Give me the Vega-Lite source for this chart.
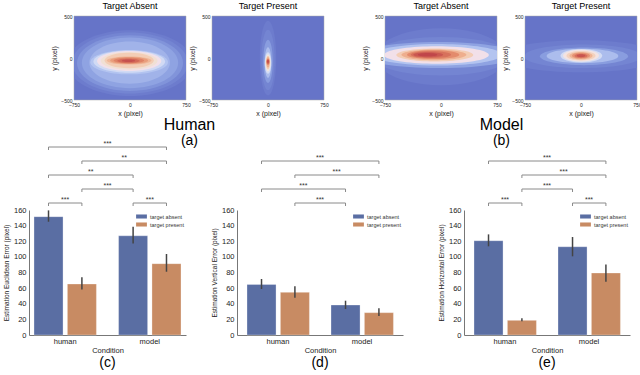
{
 "$schema": "https://vega.github.io/schema/vega-lite/v6.json",
 "padding": {"left": 3, "top": 1, "right": 2, "bottom": 1},
 "datasets": {
  "hm": [
   {"panel":"ha","g":1,"d":0.05,"cx":0,"cy":-60,"ext":1675},
   {"panel":"ha","g":1,"d":0.1,"cx":0,"cy":-60,"ext":1550},
   {"panel":"ha","g":1,"d":0.15,"cx":0,"cy":-60,"ext":1420},
   {"panel":"ha","g":1,"d":0.2,"cx":0,"cy":-58,"ext":1290},
   {"panel":"ha","g":1,"d":0.25,"cx":-5,"cy":-55,"ext":1080},
   {"panel":"ha","g":2,"d":0.3,"cx":-11,"cy":-50,"ext":1040},
   {"panel":"ha","g":2,"d":0.375,"cx":-10,"cy":-43,"ext":960},
   {"panel":"ha","g":2,"d":0.45,"cx":-11,"cy":-36,"ext":860},
   {"panel":"ha","g":2,"d":0.525,"cx":-11,"cy":-33,"ext":760},
   {"panel":"ha","g":2,"d":0.6,"cx":-11,"cy":-30,"ext":660},
   {"panel":"ha","g":3,"d":0.675,"cx":-12,"cy":-30,"ext":600},
   {"panel":"ha","g":3,"d":0.75,"cx":-12,"cy":-30,"ext":510},
   {"panel":"ha","g":3,"d":0.825,"cx":-15,"cy":-31,"ext":410},
   {"panel":"ha","g":3,"d":0.9,"cx":-20,"cy":-32,"ext":300},
   {"panel":"ha","g":3,"d":0.97,"cx":-20,"cy":-32,"ext":180},
   {"panel":"hp","g":1,"d":0.05,"cx":0,"cy":0,"ext":1000},
   {"panel":"hp","g":1,"d":0.1,"cx":0,"cy":-25,"ext":810},
   {"panel":"hp","g":1,"d":0.18,"cx":0,"cy":-40,"ext":580},
   {"panel":"hp","g":1,"d":0.28,"cx":0,"cy":-55,"ext":410},
   {"panel":"hp","g":2,"d":0.38,"cx":0,"cy":-60,"ext":290},
   {"panel":"hp","g":2,"d":0.5,"cx":0,"cy":-58,"ext":230},
   {"panel":"hp","g":2,"d":0.6,"cx":0,"cy":-55,"ext":185},
   {"panel":"hp","g":2,"d":0.7,"cx":0,"cy":-50,"ext":145},
   {"panel":"hp","g":3,"d":0.82,"cx":0,"cy":-45,"ext":85},
   {"panel":"hp","g":3,"d":0.9,"cx":0,"cy":-43,"ext":65},
   {"panel":"hp","g":3,"d":0.96,"cx":0,"cy":-42,"ext":48},
   {"panel":"hp","g":3,"d":1.0,"cx":0,"cy":-40,"ext":32},
   {"panel":"ma","g":1,"d":0.05,"cx":0,"cy":15,"ext":1750},
   {"panel":"ma","g":2,"d":0.1,"cx":0,"cy":20,"ext":1850},
   {"panel":"ma","g":3,"d":0.2,"cx":-30,"cy":36,"ext":2100},
   {"panel":"ma","g":3,"d":0.3,"cx":-50,"cy":38,"ext":1720},
   {"panel":"ma","g":3,"d":0.45,"cx":-62,"cy":36,"ext":1405},
   {"panel":"ma","g":3,"d":0.6,"cx":-83,"cy":36,"ext":1030},
   {"panel":"ma","g":3,"d":0.7,"cx":-95,"cy":38,"ext":870},
   {"panel":"ma","g":3,"d":0.8,"cx":-105,"cy":40,"ext":700},
   {"panel":"ma","g":3,"d":0.88,"cx":-135,"cy":40,"ext":540},
   {"panel":"ma","g":3,"d":0.95,"cx":-171,"cy":38,"ext":400},
   {"panel":"ma","g":3,"d":1.0,"cx":-180,"cy":39,"ext":260},
   {"panel":"mp","g":1,"d":0.05,"cx":0,"cy":20,"ext":2140},
   {"panel":"mp","g":1,"d":0.1,"cx":25,"cy":20,"ext":1570},
   {"panel":"mp","g":1,"d":0.18,"cx":40,"cy":20,"ext":1180},
   {"panel":"mp","g":1,"d":0.28,"cx":20,"cy":25,"ext":960},
   {"panel":"mp","g":2,"d":0.38,"cx":5,"cy":27,"ext":560},
   {"panel":"mp","g":2,"d":0.48,"cx":0,"cy":28,"ext":480},
   {"panel":"mp","g":2,"d":0.58,"cx":0,"cy":27,"ext":390},
   {"panel":"mp","g":2,"d":0.68,"cx":0,"cy":27,"ext":310},
   {"panel":"mp","g":2,"d":0.78,"cx":0,"cy":27,"ext":240},
   {"panel":"mp","g":2,"d":0.88,"cx":0,"cy":26,"ext":175},
   {"panel":"mp","g":2,"d":0.96,"cx":0,"cy":27,"ext":115}
  ],
  "all": [
   {"chart":"c","kind":"bar","cond":"human","target":"target absent","v":151.5,"lo":145,"hi":159.5},
   {"chart":"c","kind":"bar","cond":"human","target":"target present","v":65.3,"lo":58.4,"hi":74},
   {"chart":"c","kind":"bar","cond":"model","target":"target absent","v":127,"lo":117,"hi":138.6},
   {"chart":"c","kind":"bar","cond":"model","target":"target present","v":91.3,"lo":81,"hi":103.7},
   {"chart":"d","kind":"bar","cond":"human","target":"target absent","v":64.8,"lo":58.9,"hi":71.7},
   {"chart":"d","kind":"bar","cond":"human","target":"target present","v":54.6,"lo":47.8,"hi":62.3},
   {"chart":"d","kind":"bar","cond":"model","target":"target absent","v":38.4,"lo":33.3,"hi":43.9},
   {"chart":"d","kind":"bar","cond":"model","target":"target present","v":28.6,"lo":24.3,"hi":34.1},
   {"chart":"e","kind":"bar","cond":"human","target":"target absent","v":120.7,"lo":113.5,"hi":128.8},
   {"chart":"e","kind":"bar","cond":"human","target":"target present","v":18.8,"lo":17.6,"hi":21.3},
   {"chart":"e","kind":"bar","cond":"model","target":"target absent","v":113,"lo":100.7,"hi":125.4},
   {"chart":"e","kind":"bar","cond":"model","target":"target present","v":79.4,"lo":68.3,"hi":90.4},
   {"chart":"c","kind":"br","b":1,"cond":"human","target":"target absent","lv":1},
   {"chart":"c","kind":"br","b":1,"cond":"human","target":"target present","lv":1},
   {"chart":"c","kind":"br","b":2,"cond":"model","target":"target absent","lv":1},
   {"chart":"c","kind":"br","b":2,"cond":"model","target":"target present","lv":1},
   {"chart":"c","kind":"br","b":3,"cond":"human","target":"target present","lv":2},
   {"chart":"c","kind":"br","b":3,"cond":"model","target":"target absent","lv":2},
   {"chart":"c","kind":"br","b":4,"cond":"human","target":"target absent","lv":3},
   {"chart":"c","kind":"br","b":4,"cond":"model","target":"target absent","lv":3},
   {"chart":"c","kind":"br","b":5,"cond":"human","target":"target present","lv":4},
   {"chart":"c","kind":"br","b":5,"cond":"model","target":"target present","lv":4},
   {"chart":"c","kind":"br","b":6,"cond":"human","target":"target absent","lv":5},
   {"chart":"c","kind":"br","b":6,"cond":"model","target":"target present","lv":5},
   {"chart":"d","kind":"br","b":1,"cond":"human","target":"target present","lv":1},
   {"chart":"d","kind":"br","b":1,"cond":"model","target":"target absent","lv":1},
   {"chart":"d","kind":"br","b":2,"cond":"human","target":"target absent","lv":2},
   {"chart":"d","kind":"br","b":2,"cond":"model","target":"target absent","lv":2},
   {"chart":"d","kind":"br","b":3,"cond":"human","target":"target present","lv":3},
   {"chart":"d","kind":"br","b":3,"cond":"model","target":"target present","lv":3},
   {"chart":"d","kind":"br","b":4,"cond":"human","target":"target absent","lv":4},
   {"chart":"d","kind":"br","b":4,"cond":"model","target":"target present","lv":4},
   {"chart":"e","kind":"br","b":1,"cond":"human","target":"target absent","lv":1},
   {"chart":"e","kind":"br","b":1,"cond":"human","target":"target present","lv":1},
   {"chart":"e","kind":"br","b":2,"cond":"model","target":"target absent","lv":1},
   {"chart":"e","kind":"br","b":2,"cond":"model","target":"target present","lv":1},
   {"chart":"e","kind":"br","b":3,"cond":"human","target":"target present","lv":2},
   {"chart":"e","kind":"br","b":3,"cond":"model","target":"target absent","lv":2},
   {"chart":"e","kind":"br","b":4,"cond":"human","target":"target present","lv":3},
   {"chart":"e","kind":"br","b":4,"cond":"model","target":"target present","lv":3},
   {"chart":"e","kind":"br","b":5,"cond":"human","target":"target absent","lv":4},
   {"chart":"e","kind":"br","b":5,"cond":"model","target":"target present","lv":4},
   {"chart":"c","kind":"st","cond":"human","span":"in","lv":1,"s":"***"},
   {"chart":"c","kind":"st","cond":"model","span":"in","lv":1,"s":"***"},
   {"chart":"c","kind":"st","cond":"human","span":"b","lv":2,"s":"***"},
   {"chart":"c","kind":"st","cond":"human","span":"a","lv":3,"s":"**"},
   {"chart":"c","kind":"st","cond":"human","span":"c","lv":4,"s":"**"},
   {"chart":"c","kind":"st","cond":"human","span":"b","lv":5,"s":"***"},
   {"chart":"d","kind":"st","cond":"human","span":"b","lv":1,"s":"***"},
   {"chart":"d","kind":"st","cond":"human","span":"a","lv":2,"s":"***"},
   {"chart":"d","kind":"st","cond":"human","span":"c","lv":3,"s":"***"},
   {"chart":"d","kind":"st","cond":"human","span":"b","lv":4,"s":"***"},
   {"chart":"e","kind":"st","cond":"human","span":"in","lv":1,"s":"***"},
   {"chart":"e","kind":"st","cond":"model","span":"in","lv":1,"s":"***"},
   {"chart":"e","kind":"st","cond":"human","span":"b","lv":2,"s":"***"},
   {"chart":"e","kind":"st","cond":"human","span":"c","lv":3,"s":"***"},
   {"chart":"e","kind":"st","cond":"human","span":"b","lv":4,"s":"***"}
  ]
 },
 "vconcat": [
  {
   "hconcat": [
    {"width": 12, "height": 84, "data": {"values": []}, "mark": "point", "encoding": {}, "view": {"stroke": null}},
    {
     "hconcat": [
      {
       "hconcat": [
        {"width":112,"height":84,"title":{"text":"Target Absent","fontSize":9,"offset":3},"data":{"name":"hm"},"transform":[{"filter":"datum.panel == 'ha'"}],
         "encoding":{
          "x":{"field":"cx","type":"quantitative","scale":{"domain":[-750,750],"nice":false,"zero":false},"axis":{"values":[-750,0,750],"title":"x (pixel)","labelFontSize":5,"labelFlush":false,"labelPadding":2,"titleFontSize":7,"titlePadding":2,"domain":false,"ticks":false}},
          "y":{"field":"cy","type":"quantitative","scale":{"domain":[-500,500],"nice":false,"zero":false},"axis":{"values":[-500,0,500],"title":"y (pixel)","labelFontSize":5,"labelFlush":false,"labelPadding":2,"titleFontSize":7,"titlePadding":3,"domain":false,"ticks":false}},
          "size":{"field":"ext","type":"quantitative","scale":{"type":"pow","exponent":2,"domain":[0,1500],"range":[0,12544]},"legend":null},
          "color":{"field":"d","type":"quantitative","scale":{"domain":[0,0.1,0.2,0.3,0.4,0.5,0.6,0.7,0.8,0.9,1],"range":["#6674c8","#7485d2","#8fa3e2","#b3c4f0","#dbe2f5","#f0e6df","#f3cdb5","#eeae8e","#e38b6c","#d46a58","#c0464a"]},"legend":null}},
         "layer":[
          {"transform":[{"filter":"datum.g == 1"}],"mark":{"type":"point","shape":"M-1,0A1,0.526 0 1,0 1,0A1,0.526 0 1,0 -1,0Z","filled":true,"opacity":1,"strokeWidth":0,"clip":true}},
          {"transform":[{"filter":"datum.g == 2"}],"mark":{"type":"point","shape":"M-1,0A1,0.3125 0 1,0 1,0A1,0.3125 0 1,0 -1,0Z","filled":true,"opacity":1,"strokeWidth":0,"clip":true}},
          {"transform":[{"filter":"datum.g == 3"}],"mark":{"type":"point","shape":"M-1,0A1,0.182 0 1,0 1,0A1,0.182 0 1,0 -1,0Z","filled":true,"opacity":1,"strokeWidth":0,"clip":true}}
         ],
         "view":{"fill":"#6674c8","stroke":"#aaaaaa","strokeWidth":0.5}},
        {"width":112,"height":84,"title":{"text":"Target Present","fontSize":9,"offset":3},"data":{"name":"hm"},"transform":[{"filter":"datum.panel == 'hp'"}],
         "encoding":{
          "x":{"field":"cx","type":"quantitative","scale":{"domain":[-750,750],"nice":false,"zero":false},"axis":{"values":[-750,0,750],"title":"x (pixel)","labelFontSize":5,"labelFlush":false,"labelPadding":2,"titleFontSize":7,"titlePadding":2,"domain":false,"ticks":false}},
          "y":{"field":"cy","type":"quantitative","scale":{"domain":[-500,500],"nice":false,"zero":false},"axis":{"values":[-500,0,500],"title":"y (pixel)","labelFontSize":5,"labelFlush":false,"labelPadding":2,"titleFontSize":7,"titlePadding":3,"domain":false,"ticks":false}},
          "size":{"field":"ext","type":"quantitative","scale":{"type":"pow","exponent":2,"domain":[0,1000],"range":[0,7056]},"legend":null},
          "color":{"field":"d","type":"quantitative","scale":{"domain":[0,0.1,0.2,0.3,0.4,0.5,0.6,0.7,0.8,0.9,1],"range":["#6674c8","#7485d2","#8fa3e2","#b3c4f0","#dbe2f5","#f0e6df","#f3cdb5","#eeae8e","#e38b6c","#d46a58","#c0464a"]},"legend":null}},
         "layer":[
          {"transform":[{"filter":"datum.g == 1"}],"mark":{"type":"point","shape":"M-0.22,0A0.22,1 0 1,0 0.22,0A0.22,1 0 1,0 -0.22,0Z","filled":true,"opacity":1,"strokeWidth":0,"clip":true}},
          {"transform":[{"filter":"datum.g == 2"}],"mark":{"type":"point","shape":"M-0.3,0A0.3,1 0 1,0 0.3,0A0.3,1 0 1,0 -0.3,0Z","filled":true,"opacity":1,"strokeWidth":0,"clip":true}},
          {"transform":[{"filter":"datum.g == 3"}],"mark":{"type":"point","shape":"M-0.5,0A0.5,1 0 1,0 0.5,0A0.5,1 0 1,0 -0.5,0Z","filled":true,"opacity":1,"strokeWidth":0,"clip":true}}
         ],
         "view":{"fill":"#6674c8","stroke":"#aaaaaa","strokeWidth":0.5}}
       ],
       "spacing": -3,
       "title": {"text":"Human","subtitle":"(a)","orient":"bottom","fontSize":16,"subtitleFontSize":14,"subtitlePadding":1,"offset":1,"anchor":"middle"}
      },
      {
       "hconcat": [
        {"width":112,"height":84,"title":{"text":"Target Absent","fontSize":9,"offset":3},"data":{"name":"hm"},"transform":[{"filter":"datum.panel == 'ma'"}],
         "encoding":{
          "x":{"field":"cx","type":"quantitative","scale":{"domain":[-750,750],"nice":false,"zero":false},"axis":{"values":[-750,0,750],"title":"x (pixel)","labelFontSize":5,"labelFlush":false,"labelPadding":2,"titleFontSize":7,"titlePadding":2,"domain":false,"ticks":false}},
          "y":{"field":"cy","type":"quantitative","scale":{"domain":[-500,500],"nice":false,"zero":false},"axis":{"values":[-500,0,500],"title":"y (pixel)","labelFontSize":5,"labelFlush":false,"labelPadding":2,"titleFontSize":7,"titlePadding":3,"domain":false,"ticks":false}},
          "size":{"field":"ext","type":"quantitative","scale":{"type":"pow","exponent":2,"domain":[0,1500],"range":[0,12544]},"legend":null},
          "color":{"field":"d","type":"quantitative","scale":{"domain":[0,0.1,0.2,0.3,0.4,0.5,0.6,0.7,0.8,0.9,1],"range":["#6674c8","#7485d2","#8fa3e2","#b3c4f0","#dbe2f5","#f0e6df","#f3cdb5","#eeae8e","#e38b6c","#d46a58","#c0464a"]},"legend":null}},
         "layer":[
          {"transform":[{"filter":"datum.g == 1"}],"mark":{"type":"point","shape":"M-1,0A1,0.435 0 1,0 1,0A1,0.435 0 1,0 -1,0Z","filled":true,"opacity":1,"strokeWidth":0,"clip":true}},
          {"transform":[{"filter":"datum.g == 2"}],"mark":{"type":"point","shape":"M-1,0A1,0.278 0 1,0 1,0A1,0.278 0 1,0 -1,0Z","filled":true,"opacity":1,"strokeWidth":0,"clip":true}},
          {"transform":[{"filter":"datum.g == 3"}],"mark":{"type":"point","shape":"M-1,0A1,0.167 0 1,0 1,0A1,0.167 0 1,0 -1,0Z","filled":true,"opacity":1,"strokeWidth":0,"clip":true}}
         ],
         "view":{"fill":"#6674c8","stroke":"#aaaaaa","strokeWidth":0.5}},
        {"width":112,"height":84,"title":{"text":"Target Present","fontSize":9,"offset":3},"data":{"name":"hm"},"transform":[{"filter":"datum.panel == 'mp'"}],
         "encoding":{
          "x":{"field":"cx","type":"quantitative","scale":{"domain":[-750,750],"nice":false,"zero":false},"axis":{"values":[-750,0,750],"title":"x (pixel)","labelFontSize":5,"labelFlush":false,"labelPadding":2,"titleFontSize":7,"titlePadding":2,"domain":false,"ticks":false}},
          "y":{"field":"cy","type":"quantitative","scale":{"domain":[-500,500],"nice":false,"zero":false},"axis":{"values":[-500,0,500],"title":"y (pixel)","labelFontSize":5,"labelFlush":false,"labelPadding":2,"titleFontSize":7,"titlePadding":3,"domain":false,"ticks":false}},
          "size":{"field":"ext","type":"quantitative","scale":{"type":"pow","exponent":2,"domain":[0,1500],"range":[0,12544]},"legend":null},
          "color":{"field":"d","type":"quantitative","scale":{"domain":[0,0.1,0.2,0.3,0.4,0.5,0.6,0.7,0.8,0.9,1],"range":["#6674c8","#7485d2","#8fa3e2","#b3c4f0","#dbe2f5","#f0e6df","#f3cdb5","#eeae8e","#e38b6c","#d46a58","#c0464a"]},"legend":null}},
         "layer":[
          {"transform":[{"filter":"datum.g == 1"}],"mark":{"type":"point","shape":"M-1,0A1,0.2 0 1,0 1,0A1,0.2 0 1,0 -1,0Z","filled":true,"opacity":1,"strokeWidth":0,"clip":true}},
          {"transform":[{"filter":"datum.g == 2"}],"mark":{"type":"point","shape":"M-1,0A1,0.323 0 1,0 1,0A1,0.323 0 1,0 -1,0Z","filled":true,"opacity":1,"strokeWidth":0,"clip":true}}
         ],
         "view":{"fill":"#6674c8","stroke":"#aaaaaa","strokeWidth":0.5}}
       ],
       "spacing": -1,
       "title": {"text":"Model","subtitle":"(b)","orient":"bottom","fontSize":16,"subtitleFontSize":14,"subtitlePadding":1,"offset":1,"anchor":"middle"}
      }
     ],
     "spacing": 32
    }
   ],
   "spacing": 9
  },
  {
   "hconcat": [
    {
     "hconcat": [
      {
       "width": 157, "height": 125,
       "data": {"name": "all"},
       "transform": [{"filter": "datum.chart == 'c'"}],
       "title": {"text": "(c)", "orient": "bottom", "fontSize": 14, "offset": 2},
       "layer": [
        {"transform": [{"filter": "datum.kind == 'bar'"}],
         "layer": [
          {"mark": {"type": "bar", "stroke": "#ffffff", "strokeOpacity": 0.3, "strokeWidth": 1},
           "encoding": {
            "x": {"field":"cond","type":"nominal","scale":{"paddingInner":0.262,"paddingOuter":0.059},"axis":{"title":"Condition","labelAngle":0,"labelFontSize":7.5,"titleFontSize":7.5,"labelPadding":2,"titlePadding":2,"labelColor":"#222222","titleColor":"#222222"}},
            "xOffset": {"field":"target","type":"nominal","scale":{"paddingInner":0.13,"paddingOuter":0}},
            "y": {"field":"v","type":"quantitative","scale":{"domain":[0,160],"nice":false},"axis":{"values":[0,20,40,60,80,100,120,140,160],"title":"Estimation Euclidean Error (pixel)","labelFontSize":7.5,"titleFontSize":6.5,"labelPadding":3,"titlePadding":4,"labelOverlap":false,"labelColor":"#222222","titleColor":"#222222"}},
            "color": {"field":"target","type":"nominal","scale":{"domain":["target absent","target present"],"range":["#5a6ea3","#c88b63"]},"legend":{"title":null,"orient":"top-right","offset":2}}
           }},
          {"mark": {"type":"rule","color":"#444444","strokeWidth":1.5},
           "encoding": {
            "x": {"field":"cond","type":"nominal","axis":{"title":"Condition","labelAngle":0,"labelFontSize":7.5,"titleFontSize":7.5,"labelPadding":2,"titlePadding":2,"labelColor":"#222222","titleColor":"#222222"}},
            "xOffset": {"field":"target","type":"nominal"},
            "y": {"field":"lo","type":"quantitative","axis":{"values":[0,20,40,60,80,100,120,140,160],"title":"Estimation Euclidean Error (pixel)","labelFontSize":7.5,"titleFontSize":6.5,"labelPadding":3,"titlePadding":4,"labelOverlap":false,"labelColor":"#222222","titleColor":"#222222"}},
            "y2": {"field":"hi"}
           }}
         ]},
        {"layer": [
          {"transform":[{"filter":"datum.kind == 'br'"}],
           "mark":{"type":"line","color":"#8a8a8a","strokeWidth":1},
           "encoding":{"x":{"field":"cond","type":"nominal","axis":{"title":"Condition","labelAngle":0,"labelFontSize":7.5,"titleFontSize":7.5,"labelPadding":2,"titlePadding":2,"labelColor":"#222222","titleColor":"#222222"}},"xOffset":{"field":"target","type":"nominal"},"y":{"field":"lv","type":"quantitative","scale":{"domain":[1,5],"range":[-7,-63],"nice":false,"zero":false},"axis":null},"detail":{"field":"b"}}},
          {"transform":[{"filter":"datum.kind == 'br'"}],
           "mark":{"type":"point","shape":"M0,0L0,1","size":36,"filled":false,"color":"#8a8a8a","strokeWidth":1,"opacity":1},
           "encoding":{"x":{"field":"cond","type":"nominal","axis":{"title":"Condition","labelAngle":0,"labelFontSize":7.5,"titleFontSize":7.5,"labelPadding":2,"titlePadding":2,"labelColor":"#222222","titleColor":"#222222"}},"xOffset":{"field":"target","type":"nominal"},"y":{"field":"lv","type":"quantitative","axis":null}}},
          {"transform":[{"filter":"datum.kind == 'st' && datum.span == 'in'"}],
           "mark":{"type":"text","fontSize":7,"baseline":"alphabetic","dy":-1.5,"color":"#333333"},
           "encoding":{"x":{"field":"cond","type":"nominal","bandPosition":0.5,"axis":{"title":"Condition","labelAngle":0,"labelFontSize":7.5,"titleFontSize":7.5,"labelPadding":2,"titlePadding":2,"labelColor":"#222222","titleColor":"#222222"}},"y":{"field":"lv","type":"quantitative","axis":null},"text":{"field":"s"}}},
          {"transform":[{"filter":"datum.kind == 'st' && datum.span == 'a'"}],
           "mark":{"type":"text","fontSize":7,"baseline":"alphabetic","dy":-1.5,"color":"#333333"},
           "encoding":{"x":{"field":"cond","type":"nominal","bandPosition":0.91,"axis":{"title":"Condition","labelAngle":0,"labelFontSize":7.5,"titleFontSize":7.5,"labelPadding":2,"titlePadding":2,"labelColor":"#222222","titleColor":"#222222"}},"y":{"field":"lv","type":"quantitative","axis":null},"text":{"field":"s"}}},
          {"transform":[{"filter":"datum.kind == 'st' && datum.span == 'b'"}],
           "mark":{"type":"text","fontSize":7,"baseline":"alphabetic","dy":-1.5,"color":"#333333"},
           "encoding":{"x":{"field":"cond","type":"nominal","bandPosition":1.1775,"axis":{"title":"Condition","labelAngle":0,"labelFontSize":7.5,"titleFontSize":7.5,"labelPadding":2,"titlePadding":2,"labelColor":"#222222","titleColor":"#222222"}},"y":{"field":"lv","type":"quantitative","axis":null},"text":{"field":"s"}}},
          {"transform":[{"filter":"datum.kind == 'st' && datum.span == 'c'"}],
           "mark":{"type":"text","fontSize":7,"baseline":"alphabetic","dy":-1.5,"color":"#333333"},
           "encoding":{"x":{"field":"cond","type":"nominal","bandPosition":1.445,"axis":{"title":"Condition","labelAngle":0,"labelFontSize":7.5,"titleFontSize":7.5,"labelPadding":2,"titlePadding":2,"labelColor":"#222222","titleColor":"#222222"}},"y":{"field":"lv","type":"quantitative","axis":null},"text":{"field":"s"}}}
        ]}
       ],
       "resolve": {"scale": {"y": "independent"}}
      },
      {
       "width": 166, "height": 125,
       "data": {"name": "all"},
       "transform": [{"filter": "datum.chart == 'd'"}],
       "title": {"text": "(d)", "orient": "bottom", "fontSize": 14, "offset": 2},
       "layer": [
        {"transform": [{"filter": "datum.kind == 'bar'"}],
         "layer": [
          {"mark": {"type": "bar", "stroke": "#ffffff", "strokeOpacity": 0.3, "strokeWidth": 1},
           "encoding": {
            "x": {"field":"cond","type":"nominal","scale":{"paddingInner":0.262,"paddingOuter":0.119},"axis":{"title":"Condition","labelAngle":0,"labelFontSize":7.5,"titleFontSize":7.5,"labelPadding":2,"titlePadding":2,"labelColor":"#222222","titleColor":"#222222"}},
            "xOffset": {"field":"target","type":"nominal","scale":{"paddingInner":0.13,"paddingOuter":0}},
            "y": {"field":"v","type":"quantitative","scale":{"domain":[0,160],"nice":false},"axis":{"values":[0,20,40,60,80,100,120,140,160],"title":"Estimation Vertical Error (pixel)","labelFontSize":7.5,"titleFontSize":6.5,"labelPadding":3,"titlePadding":4,"labelOverlap":false,"labelColor":"#222222","titleColor":"#222222"}},
            "color": {"field":"target","type":"nominal","scale":{"domain":["target absent","target present"],"range":["#5a6ea3","#c88b63"]},"legend":{"title":null,"orient":"top-right","offset":2}}
           }},
          {"mark": {"type":"rule","color":"#444444","strokeWidth":1.5},
           "encoding": {
            "x": {"field":"cond","type":"nominal","axis":{"title":"Condition","labelAngle":0,"labelFontSize":7.5,"titleFontSize":7.5,"labelPadding":2,"titlePadding":2,"labelColor":"#222222","titleColor":"#222222"}},
            "xOffset": {"field":"target","type":"nominal"},
            "y": {"field":"lo","type":"quantitative","axis":{"values":[0,20,40,60,80,100,120,140,160],"title":"Estimation Vertical Error (pixel)","labelFontSize":7.5,"titleFontSize":6.5,"labelPadding":3,"titlePadding":4,"labelOverlap":false,"labelColor":"#222222","titleColor":"#222222"}},
            "y2": {"field":"hi"}
           }}
         ]},
        {"layer": [
          {"transform":[{"filter":"datum.kind == 'br'"}],
           "mark":{"type":"line","color":"#8a8a8a","strokeWidth":1},
           "encoding":{"x":{"field":"cond","type":"nominal","axis":{"title":"Condition","labelAngle":0,"labelFontSize":7.5,"titleFontSize":7.5,"labelPadding":2,"titlePadding":2,"labelColor":"#222222","titleColor":"#222222"}},"xOffset":{"field":"target","type":"nominal"},"y":{"field":"lv","type":"quantitative","scale":{"domain":[1,5],"range":[-7,-63],"nice":false,"zero":false},"axis":null},"detail":{"field":"b"}}},
          {"transform":[{"filter":"datum.kind == 'br'"}],
           "mark":{"type":"point","shape":"M0,0L0,1","size":36,"filled":false,"color":"#8a8a8a","strokeWidth":1,"opacity":1},
           "encoding":{"x":{"field":"cond","type":"nominal","axis":{"title":"Condition","labelAngle":0,"labelFontSize":7.5,"titleFontSize":7.5,"labelPadding":2,"titlePadding":2,"labelColor":"#222222","titleColor":"#222222"}},"xOffset":{"field":"target","type":"nominal"},"y":{"field":"lv","type":"quantitative","axis":null}}},
          {"transform":[{"filter":"datum.kind == 'st' && datum.span == 'a'"}],
           "mark":{"type":"text","fontSize":7,"baseline":"alphabetic","dy":-1.5,"color":"#333333"},
           "encoding":{"x":{"field":"cond","type":"nominal","bandPosition":0.91,"axis":{"title":"Condition","labelAngle":0,"labelFontSize":7.5,"titleFontSize":7.5,"labelPadding":2,"titlePadding":2,"labelColor":"#222222","titleColor":"#222222"}},"y":{"field":"lv","type":"quantitative","axis":null},"text":{"field":"s"}}},
          {"transform":[{"filter":"datum.kind == 'st' && datum.span == 'b'"}],
           "mark":{"type":"text","fontSize":7,"baseline":"alphabetic","dy":-1.5,"color":"#333333"},
           "encoding":{"x":{"field":"cond","type":"nominal","bandPosition":1.1775,"axis":{"title":"Condition","labelAngle":0,"labelFontSize":7.5,"titleFontSize":7.5,"labelPadding":2,"titlePadding":2,"labelColor":"#222222","titleColor":"#222222"}},"y":{"field":"lv","type":"quantitative","axis":null},"text":{"field":"s"}}},
          {"transform":[{"filter":"datum.kind == 'st' && datum.span == 'c'"}],
           "mark":{"type":"text","fontSize":7,"baseline":"alphabetic","dy":-1.5,"color":"#333333"},
           "encoding":{"x":{"field":"cond","type":"nominal","bandPosition":1.445,"axis":{"title":"Condition","labelAngle":0,"labelFontSize":7.5,"titleFontSize":7.5,"labelPadding":2,"titlePadding":2,"labelColor":"#222222","titleColor":"#222222"}},"y":{"field":"lv","type":"quantitative","axis":null},"text":{"field":"s"}}}
        ]}
       ],
       "resolve": {"scale": {"y": "independent"}}
      }
     ],
     "spacing": 25,
     "resolve": {"scale": {"color": "independent"}, "legend": {"color": "independent"}}
    },
    {
     "width": 166, "height": 125,
     "data": {"name": "all"},
     "transform": [{"filter": "datum.chart == 'e'"}],
     "title": {"text": "(e)", "orient": "bottom", "fontSize": 14, "offset": 2},
     "layer": [
      {"transform": [{"filter": "datum.kind == 'bar'"}],
       "layer": [
        {"mark": {"type": "bar", "stroke": "#ffffff", "strokeOpacity": 0.3, "strokeWidth": 1},
         "encoding": {
          "x": {"field":"cond","type":"nominal","scale":{"paddingInner":0.262,"paddingOuter":0.119},"axis":{"title":"Condition","labelAngle":0,"labelFontSize":7.5,"titleFontSize":7.5,"labelPadding":2,"titlePadding":2,"labelColor":"#222222","titleColor":"#222222"}},
          "xOffset": {"field":"target","type":"nominal","scale":{"paddingInner":0.13,"paddingOuter":0}},
          "y": {"field":"v","type":"quantitative","scale":{"domain":[0,160],"nice":false},"axis":{"values":[0,20,40,60,80,100,120,140,160],"title":"Estimation Horizontal Error (pixel)","labelFontSize":7.5,"titleFontSize":6.5,"labelPadding":3,"titlePadding":4,"labelOverlap":false,"labelColor":"#222222","titleColor":"#222222"}},
          "color": {"field":"target","type":"nominal","scale":{"domain":["target absent","target present"],"range":["#5a6ea3","#c88b63"]},"legend":{"title":null,"orient":"top-right","offset":2}}
         }},
        {"mark": {"type":"rule","color":"#444444","strokeWidth":1.5},
         "encoding": {
          "x": {"field":"cond","type":"nominal","axis":{"title":"Condition","labelAngle":0,"labelFontSize":7.5,"titleFontSize":7.5,"labelPadding":2,"titlePadding":2,"labelColor":"#222222","titleColor":"#222222"}},
          "xOffset": {"field":"target","type":"nominal"},
          "y": {"field":"lo","type":"quantitative","axis":{"values":[0,20,40,60,80,100,120,140,160],"title":"Estimation Horizontal Error (pixel)","labelFontSize":7.5,"titleFontSize":6.5,"labelPadding":3,"titlePadding":4,"labelOverlap":false,"labelColor":"#222222","titleColor":"#222222"}},
          "y2": {"field":"hi"}
         }}
       ]},
      {"layer": [
        {"transform":[{"filter":"datum.kind == 'br'"}],
         "mark":{"type":"line","color":"#8a8a8a","strokeWidth":1},
         "encoding":{"x":{"field":"cond","type":"nominal","axis":{"title":"Condition","labelAngle":0,"labelFontSize":7.5,"titleFontSize":7.5,"labelPadding":2,"titlePadding":2,"labelColor":"#222222","titleColor":"#222222"}},"xOffset":{"field":"target","type":"nominal"},"y":{"field":"lv","type":"quantitative","scale":{"domain":[1,5],"range":[-7,-63],"nice":false,"zero":false},"axis":null},"detail":{"field":"b"}}},
        {"transform":[{"filter":"datum.kind == 'br'"}],
         "mark":{"type":"point","shape":"M0,0L0,1","size":36,"filled":false,"color":"#8a8a8a","strokeWidth":1,"opacity":1},
         "encoding":{"x":{"field":"cond","type":"nominal","axis":{"title":"Condition","labelAngle":0,"labelFontSize":7.5,"titleFontSize":7.5,"labelPadding":2,"titlePadding":2,"labelColor":"#222222","titleColor":"#222222"}},"xOffset":{"field":"target","type":"nominal"},"y":{"field":"lv","type":"quantitative","axis":null}}},
        {"transform":[{"filter":"datum.kind == 'st' && datum.span == 'in'"}],
         "mark":{"type":"text","fontSize":7,"baseline":"alphabetic","dy":-1.5,"color":"#333333"},
         "encoding":{"x":{"field":"cond","type":"nominal","bandPosition":0.5,"axis":{"title":"Condition","labelAngle":0,"labelFontSize":7.5,"titleFontSize":7.5,"labelPadding":2,"titlePadding":2,"labelColor":"#222222","titleColor":"#222222"}},"y":{"field":"lv","type":"quantitative","axis":null},"text":{"field":"s"}}},
        {"transform":[{"filter":"datum.kind == 'st' && datum.span == 'b'"}],
         "mark":{"type":"text","fontSize":7,"baseline":"alphabetic","dy":-1.5,"color":"#333333"},
         "encoding":{"x":{"field":"cond","type":"nominal","bandPosition":1.1775,"axis":{"title":"Condition","labelAngle":0,"labelFontSize":7.5,"titleFontSize":7.5,"labelPadding":2,"titlePadding":2,"labelColor":"#222222","titleColor":"#222222"}},"y":{"field":"lv","type":"quantitative","axis":null},"text":{"field":"s"}}},
        {"transform":[{"filter":"datum.kind == 'st' && datum.span == 'c'"}],
         "mark":{"type":"text","fontSize":7,"baseline":"alphabetic","dy":-1.5,"color":"#333333"},
         "encoding":{"x":{"field":"cond","type":"nominal","bandPosition":1.445,"axis":{"title":"Condition","labelAngle":0,"labelFontSize":7.5,"titleFontSize":7.5,"labelPadding":2,"titlePadding":2,"labelColor":"#222222","titleColor":"#222222"}},"y":{"field":"lv","type":"quantitative","axis":null},"text":{"field":"s"}}}
      ]}
     ],
     "resolve": {"scale": {"y": "independent"}}
    }
   ],
   "spacing": 35,
   "resolve": {"scale": {"color": "independent"}, "legend": {"color": "independent"}}
  }
 ],
 "spacing": -10,
 "resolve": {"scale": {"color": "independent", "size": "independent"}, "legend": {"color": "independent", "size": "independent"}},
 "config": {
  "font": "Liberation Sans",
  "view": {"stroke": null},
  "axis": {"grid": false, "ticks": false, "domainColor": "#777777", "labelColor": "#222222", "titleColor": "#222222", "titleFontWeight": "normal"},
  "title": {"fontWeight": "normal", "color": "#000000", "subtitleColor": "#000000"},
  "legend": {"labelFontSize": 5.5, "labelColor": "#333333", "symbolType": "M-1.2,-0.45L1.2,-0.45L1.2,0.45L-1.2,0.45Z", "symbolSize": 81, "symbolStrokeWidth": 0, "symbolOpacity": 1, "rowPadding": 0, "labelOffset": 4, "padding": 0}
 }
}
